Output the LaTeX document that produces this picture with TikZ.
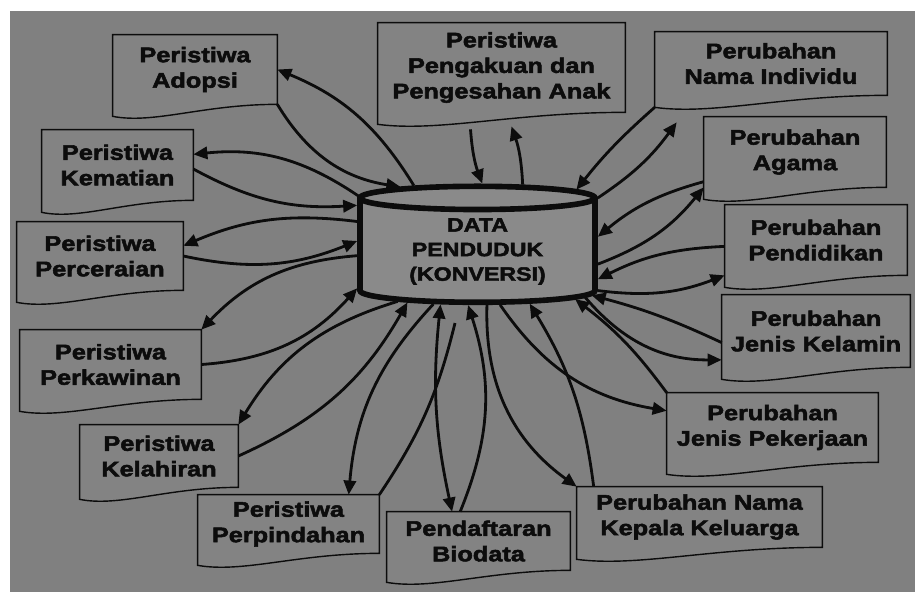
\documentclass[tikz,border=0pt]{standalone}
\usepackage{fontspec}
\newfontfamily\lblfont[FakeStretch=1.2,BoldFeatures={FakeBold=2.5}]{Liberation Sans}
\usetikzlibrary{shapes.geometric,arrows.meta,calc,backgrounds}

\definecolor{bggray}{RGB}{128,128,128}
\definecolor{boxgray}{RGB}{131,131,131}
\definecolor{cylgray}{RGB}{138,138,138}
\definecolor{inkblack}{RGB}{12,12,12}

\tikzset{
  docbox/.style={inner sep=0pt, align=center, text=inkblack,
    font=\lblfont\bfseries\fontsize{12}{14.5}\selectfont},
  docline/.style={draw=inkblack, line width=0.8pt, fill=boxgray},
  dbcyl/.style={cylinder, shape border rotate=90, aspect=0.17, draw=inkblack,
    line width=3.2pt, fill=cylgray, minimum width=4.7cm, minimum height=2.32cm,
    inner sep=0pt, align=center, text=inkblack,
    font=\lblfont\bfseries\fontsize{11}{14}\selectfont},
  flow/.style={draw=inkblack, line width=1.6pt, -{Triangle[length=8pt,width=7pt]}},
  flowboth/.style={flow, {Triangle[length=8pt,width=7pt]}-{Triangle[length=8pt,width=7pt]}},
  flowplain/.style={draw=inkblack, line width=1.6pt},
}

\begin{document}
\begin{tikzpicture}[x=0.02cm,y=0.02cm]
\useasboundingbox (0,0) rectangle (915,-592);
\node[dbcyl] (db) at (477.5,-251.5) {DATA\\PENDUDUK\\(KONVERSI)};

\node[docbox, minimum width=3.28cm, minimum height=1.38cm] (adopsi) at (195,-69.5) {Peristiwa\\Adopsi};
\node[docbox, minimum width=3.02cm, minimum height=1.40cm] (kematian) at (117.5,-165) {Peristiwa\\Kematian};
\node[docbox, minimum width=3.32cm, minimum height=1.36cm] (cerai) at (100,-256) {Peristiwa\\Perceraian};
\node[docbox, minimum width=3.62cm, minimum height=1.38cm] (kawin) at (110.5,-364.5) {Peristiwa\\Perkawinan};
\node[docbox, minimum width=3.16cm, minimum height=1.24cm] (lahir) at (159,-456) {Peristiwa\\Kelahiran};
\node[docbox, minimum width=3.62cm, minimum height=1.16cm] (pindah) at (288.5,-524) {Peristiwa\\Perpindahan};
\node[docbox, minimum width=3.66cm, minimum height=1.16cm] (biodata) at (478.5,-541) {Pendaftaran\\Biodata};
\node[docbox, minimum width=4.90cm, minimum height=1.20cm] (kepala) at (699.5,-517) {Perubahan Nama\\Kepala Keluarga};
\node[docbox, minimum width=4.22cm, minimum height=1.38cm] (kerja) at (772.5,-427.5) {Perubahan\\Jenis Pekerjaan};
\node[docbox, minimum width=3.76cm, minimum height=1.44cm] (kelamin) at (816,-331) {Perubahan\\Jenis Kelamin};
\node[docbox, minimum width=3.64cm, minimum height=1.40cm] (didik) at (816,-240) {Perubahan\\Pendidikan};
\node[docbox, minimum width=3.64cm, minimum height=1.40cm] (agama) at (795,-152) {Perubahan\\Agama};
\node[docbox, minimum width=4.64cm, minimum height=1.26cm] (indiv) at (771,-63.5) {Perubahan\\Nama Individu};
\node[docbox, minimum width=4.94cm, minimum height=1.78cm] (akui) at (501.5,-67.5) {Peristiwa\\Pengakuan dan\\Pengesahan Anak};
\coordinate (pindahtip) at (455,-323);

\begin{scope}[on background layer]
\fill[white] (0,0) rectangle (915,-592);
\fill[bggray] (10,-11) rectangle (915,-592);
\foreach \n in {adopsi,kematian,cerai,kawin,lahir,pindah,biodata,kepala,kerja,kelamin,didik,agama,indiv,akui}
  \draw[docline] (\n.north west) -- (\n.north east) -- (\n.south east)
    .. controls ($(\n.south east)!0.45!(\n.south west)$) and ($(\n.south east)!0.75!(\n.south west)+(0,-20)$)
    .. ($(\n.south west)+(0,-12)$) -- cycle;
\end{scope}

\draw[flow] (db.134) to[bend right=18] (adopsi.east);
\draw[flow] (adopsi.south east) to[bend right=25] (db.140);
\draw[flow] (db.155) to[bend right=20] (kematian.8);
\draw[flow] (kematian.-3) to[bend right=16] (db.159);
\draw[flow] (db.166) to[bend right=15] (cerai.7);
\draw[flow] (cerai.east) to[bend right=17] (db.175);
\draw[flow] (db.182) to[bend right=21] (kawin.north east);
\draw[flow] (kawin.east) to[bend right=22] (db.197);
\draw[flow] (db.212) to[bend right=21] (lahir.north east);
\draw[flow] (lahir.east) to[bend right=18] (db.216);
\draw[flow] (db.230) to[bend right=19] (pindah.26);
\draw[flowplain] (pindah.north east) to[bend right=10] (pindahtip);
\draw[flowboth] (db.235) to[bend right=9] (biodata.132);
\draw[flow] (biodata.122) to[bend right=20] (db.260);
\draw[flow] (db.280) to[bend right=28] (kepala.north west);
\draw[flow] (kepala.164) to[bend right=12] (db.315);
\draw[flow] (db.293) to[bend right=23] (kerja.171);
\draw[flow] (kerja.north west) to[bend right=8] (db.334);
\draw[flow] (kelamin.187) to[bend right=5] (db.339);
\draw[flow] (db.337) to[bend right=25] (kelamin.197);
\draw[flow] (didik.184) to[bend right=12] (db.347);
\draw[flow] (db.342) to[bend right=14] (didik.south west);
\draw[flow] (agama.198) to[bend right=12] (db.7);
\draw[flow] (db.354) to[bend right=15] (agama.south west);
\draw[flow] (db.24) to[bend right=10] ([shift={(22,-27)}]indiv.south west);
\draw[flow] ([shift={(0,-12)}]indiv.south west) to[bend right=5] (db.32);
\draw[flow] ([shift={(-31,-17)}]akui.south) to[bend right=8] (db.86);
\draw[flow] (db.56) to[bend right=8] ([shift={(10,-14)}]akui.south);
\end{tikzpicture}
\end{document}
